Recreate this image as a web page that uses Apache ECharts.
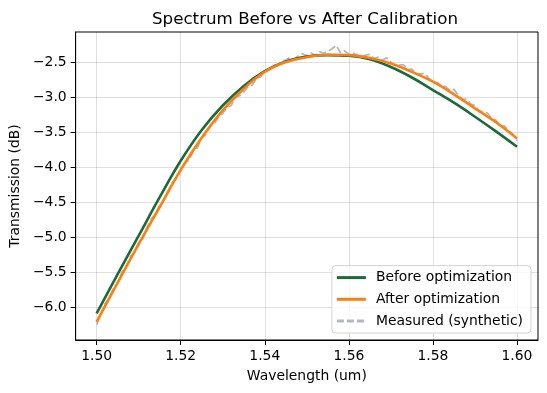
<!DOCTYPE html>
<html>
<head>
<meta charset="utf-8">
<script src="https://cdn.jsdelivr.net/npm/echarts@6/dist/echarts.min.js"></script>
<style>
html,body{margin:0;padding:0;background:#fff;}
#chart{width:547px;height:393px;}
</style>
</head>
<body>
<div id="chart"></div>
<script>
// ---- data ----
const wavelengths = [1.500,1.505,1.510,1.515,1.520,1.525,1.530,1.535,1.540,1.545,1.550,1.555,1.560,1.565,1.570,1.575,1.580,1.585,1.590,1.595,1.600];
const beforeOpt = [-6.09,-5.53,-4.98,-4.43,-3.91,-3.47,-3.12,-2.84,-2.63,-2.49,-2.42,-2.40,-2.41,-2.46,-2.57,-2.72,-2.90,-3.08,-3.28,-3.49,-3.71];
const afterOpt  = [-6.21,-5.65,-5.10,-4.57,-4.04,-3.58,-3.19,-2.88,-2.64,-2.50,-2.43,-2.395,-2.40,-2.44,-2.52,-2.64,-2.78,-2.96,-3.16,-3.36,-3.59];
const measuredX = [1.500,1.501,1.502,1.503,1.504,1.505,1.506,1.507,1.508,1.509,
  1.510,1.511,1.512,1.513,1.514,1.515,1.516,1.517,1.518,1.519,
  1.520,1.521,1.522,1.523,1.524,1.525,1.526,1.527,1.528,1.529,
  1.530,1.531,1.532,1.533,1.534,1.535,1.536,1.537,1.538,1.539,
  1.540,1.541,1.542,1.543,1.544,1.545,1.546,1.547,1.548,1.549,
  1.550,1.551,1.552,1.553,1.554,1.555,1.556,1.557,1.558,1.559,
  1.560,1.561,1.562,1.563,1.564,1.565,1.566,1.567,1.568,1.569,
  1.570,1.571,1.572,1.573,1.574,1.575,1.576,1.577,1.578,1.579,
  1.580,1.581,1.582,1.583,1.584,1.585,1.586,1.587,1.588,1.589,
  1.590,1.591,1.592,1.593,1.594,1.595,1.596,1.597,1.598,1.599,1.600];
const measuredY = [-6.25,-6.10,-5.95,-5.88,-5.73,-5.66,-5.50,-5.42,-5.28,-5.22,
  -5.08,-5.02,-4.86,-4.74,-4.68,-4.55,-4.48,-4.34,-4.22,-4.16,
  -4.05,-3.93,-3.90,-3.77,-3.72,-3.58,-3.53,-3.42,-3.38,-3.28,
  -3.23,-3.15,-3.12,-3.01,-2.98,-2.93,-2.85,-2.83,-2.73,-2.71,
  -2.62,-2.61,-2.55,-2.55,-2.49,-2.47,-2.43,-2.46,-2.41,-2.38,
  -2.41,-2.37,-2.41,-2.35,-2.37,-2.35,-2.31,-2.26,-2.37,-2.34,
  -2.39,-2.37,-2.40,-2.43,-2.40,-2.39,-2.45,-2.43,-2.47,-2.44,
  -2.50,-2.55,-2.54,-2.54,-2.61,-2.60,-2.67,-2.67,-2.66,-2.73,
  -2.79,-2.79,-2.84,-2.85,-2.90,-2.89,-2.97,-3.03,-3.03,-3.10,
  -3.12,-3.20,-3.21,-3.23,-3.31,-3.33,-3.42,-3.41,-3.48,-3.53,-3.62];
const xTicks = [1.50,1.52,1.54,1.56,1.58,1.60];
const yTicks = [-6.0,-5.5,-5.0,-4.5,-4.0,-3.5,-3.0,-2.5];
const seriesNames = ['Before optimization','After optimization','Measured (synthetic)'];

const pair = (xs, ys) => xs.map((x, i) => [x, ys[i]]);
const FONT = 'DejaVu Sans';
const solidIcon = 'path://M0,0H29V2.6H0Z';
const dashIcon = 'path://M0,0H7V2H0Z M10,0H17V2H10Z M20,0H27V2H20Z M27,0H29V0.01H27Z';
const chart = echarts.init(document.getElementById('chart'), null, {renderer: 'canvas'});
chart.setOption({
  animation: false,
  backgroundColor: '#fff',
  title: {
    text: 'Spectrum Before vs After Calibration',
    left: 300, top: 6, textAlign: 'center',
    textStyle: {fontFamily: FONT, fontSize: 16.7, fontWeight: 'normal', color: '#000'}
  },
  grid: {left: 73, right: 9, top: 32, bottom: 53, show: true, borderColor: '#000', borderWidth: 1, containLabel: false},
  xAxis: {
    type: 'value', min: 1.495, max: 1.605,
    name: 'Wavelength (um)', nameLocation: 'middle', nameGap: 29,
    nameTextStyle: {fontFamily: FONT, fontSize: 13.9, color: '#000'},
    axisLine: {show: true, lineStyle: {color: '#000'}},
    axisTick: {show: true, length: 5, lineStyle: {color: '#000'}, customValues: xTicks},
    axisLabel: {fontFamily: FONT, fontSize: 13.9, color: '#000', margin: 9, customValues: xTicks, formatter: v => v.toFixed(2)},
    splitLine: {show: true, lineStyle: {color: '#000', opacity: 0.12}}
  },
  yAxis: {
    type: 'value', min: -6.47, max: -2.07,
    name: 'Transmission (dB)', nameLocation: 'middle', nameGap: 47, nameRotate: 90,
    nameTextStyle: {fontFamily: FONT, fontSize: 13.9, color: '#000'},
    axisLine: {show: true, lineStyle: {color: '#000'}},
    axisTick: {show: true, length: 5, lineStyle: {color: '#000'}, customValues: yTicks},
    axisLabel: {fontFamily: FONT, fontSize: 13.9, color: '#000', margin: 9, customValues: yTicks, formatter: v => v.toFixed(1).replace('-', '\u2212')},
    splitLine: {show: true, lineStyle: {color: '#000', opacity: 0.12}}
  },
  legend: {
    orient: 'vertical', right: 16, bottom: 60,
    data: [
      {name: seriesNames[0], icon: solidIcon},
      {name: seriesNames[1], icon: solidIcon},
      {name: seriesNames[2], icon: dashIcon}
    ],
    symbolKeepAspect: false,
    itemWidth: 29, itemHeight: 3, itemGap: 7.7,
    padding: [5, 8, 5, 5],
    backgroundColor: 'rgba(255,255,255,0.8)', borderColor: '#d3d3d3', borderWidth: 1, borderRadius: 4,
    textStyle: {fontFamily: FONT, fontSize: 13.9, color: '#000', padding: [0, 0, 0, 5]}
  },
  series: [
    {name: seriesNames[2], type: 'line', data: pair(measuredX, measuredY), symbol: 'none', z: 1,
     lineStyle: {color: '#b3b6c8', width: 1.8, type: [7.5, 3.3]}, itemStyle: {color: '#b3b6c8'}},
    {name: seriesNames[0], type: 'line', data: pair(wavelengths, beforeOpt), symbol: 'none', smooth: 0.4, z: 2,
     lineStyle: {color: '#1b6b3a', width: 2.6}, itemStyle: {color: '#1b6b3a'}},
    {name: seriesNames[1], type: 'line', data: pair(wavelengths, afterOpt), symbol: 'none', smooth: 0.4, z: 3,
     lineStyle: {color: '#ff7f0e', width: 2.6}, itemStyle: {color: '#ff7f0e'}}
  ]
});
</script>
</body>
</html>
